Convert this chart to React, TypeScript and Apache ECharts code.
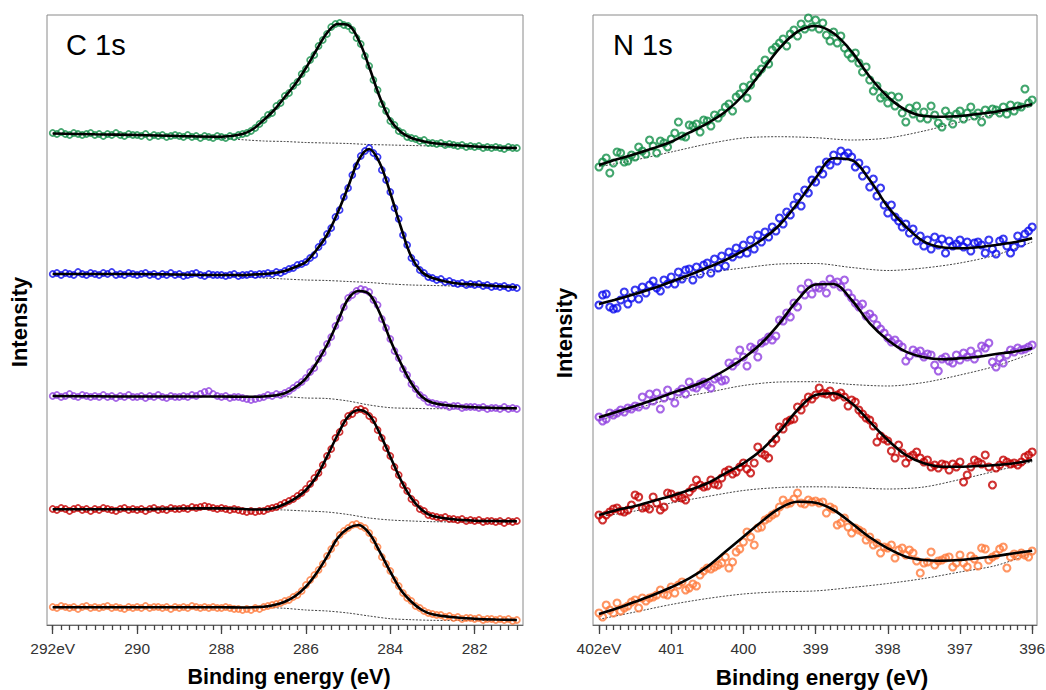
import React, { useEffect, useRef } from 'react';
import * as echarts from 'echarts';

// ---------- axes ----------
const C_TICKS = [292, 290, 288, 286, 284, 282];
const N_TICKS = [402, 401, 400, 399, 398, 397, 396];
const C_RANGE = [280.855, 292.135];
const N_RANGE = [395.933, 402.083];

// ---------- sampling grids (binding energy, eV) ----------
const C_START = 292; const C_STEP = 0.1;   // C 1s measured points
const N_START = 402; const N_STEP = 0.05;  // N 1s measured points
const C_FIT_EV = [292, 291, 290, 289, 288, 287.5, 287.25, 287, 286.75, 286.5, 286.25, 286, 285.75, 285.5, 285.25, 285, 284.75, 284.5, 284.25, 284, 283.75, 283.5, 283.25, 283, 282.5, 282, 281.5, 281];
const C_BASE_EV = [292, 290, 288, 287, 286.5, 286, 285.5, 285, 284.5, 284, 283.5, 283, 282, 281];
const N_FIT_EV = [402, 401.75, 401.5, 401.25, 401, 400.75, 400.5, 400.25, 400, 399.75, 399.5, 399.25, 399, 398.75, 398.5, 398.25, 398, 397.75, 397.5, 397.25, 397, 396.75, 396.5, 396.25, 396];
const N_BASE_EV = [402, 401.5, 401, 400.5, 400, 399.5, 399, 398.5, 398, 397.5, 397, 396.5, 396];

const COLORS = ['#14904a', '#0a0aee', '#9040e0', '#c40000', '#ff7a3c'];

// ---------- C 1s (offset intensity, a.u.) ----------
const cGreenPts = [
  492,491,493,491,490,492,491,490,491,492,
  490,491,489,491,490,492,490,489,491,490,
  490,489,491,488,490,489,490,488,489,490,
  489,488,490,488,489,487,489,488,487,489,
  488,487,489,488,490,491,492,494,497,501,
  505,510,512,519,522,529,532,539,543,551,
  556,565,570,579,585,591,598,601,602,600,
  599,595,587,581,569,559,545,535,521,514,
  504,500,494,492,488,487,486,484,485,482,
  482,481,482,480,481,480,479,480,478,479,
  478,479,477,478,477,478,477,476,478,477,477];
const cBluePts = [
  351,352,350,352,351,350,353,351,350,352,
  351,350,352,351,353,350,351,350,352,351,
  350,351,352,350,351,349,351,350,352,350,
  351,349,350,351,352,350,349,351,350,350,
  350,349,350,351,349,350,350,351,350,351,
  351,352,351,353,352,354,356,357,360,361,
  363,367,370,378,383,391,397,408,415,428,
  437,450,459,469,474,477,472,468,455,445,
  433,417,406,390,380,367,362,355,352,348,
  347,345,346,343,344,342,341,342,340,341,
  340,341,339,340,338,339,338,339,337,338,337];
const cPurplePts = [
  229,230,228,229,231,229,228,230,229,228,
  229,228,230,228,229,227,229,228,230,228,
  228,229,227,229,228,230,228,227,229,228,
  228,229,228,230,229,231,233,234,231,229,
  228,229,227,228,228,227,226,225,226,227,
  228,230,229,231,230,232,234,237,240,243,
  247,253,257,266,272,281,288,299,307,318,
  327,330,334,336,335,333,325,320,306,297,
  286,274,267,256,250,241,236,230,227,223,
  222,221,220,220,218,219,219,217,218,218,
  218,217,218,216,217,217,216,218,216,217,216];
const cRedPts = [
  116,115,117,116,114,116,117,115,116,114,
  116,115,117,116,115,114,116,117,115,116,
  115,116,114,116,117,115,116,115,117,116,
  116,117,116,118,117,118,119,118,117,116,
  117,116,115,116,115,114,113,114,113,114,
  114,116,117,118,120,122,124,126,129,132,
  136,141,147,152,160,169,176,187,193,202,
  209,211,215,216,214,209,205,195,187,177,
  169,158,150,140,134,126,122,116,114,110,
  109,108,107,108,106,106,105,106,104,105,
  104,105,103,104,104,103,104,102,104,103,104];
const cOrangePts = [
  18,17,19,18,17,18,16,18,19,17,
  18,17,18,19,17,18,17,16,18,17,
  18,17,19,17,18,18,17,18,16,18,
  17,18,17,19,18,17,18,17,18,17,
  17,18,17,16,16,15,16,15,17,16,
  18,19,20,21,22,24,25,28,30,34,
  40,45,50,55,61,69,76,82,90,94,
  97,100,101,99,97,92,85,78,68,61,
  54,45,39,32,27,24,19,17,14,12,
  11,10,10,8,9,7,8,6,7,7,
  6,7,5,6,6,5,6,5,6,4,5];

const cGreenFit = [491.5,490.7,490,489,488.3,491,496,505,515,528,541,557,575,592,601,600,585,558,528,505,493,487,484,482,480,478.5,477.5,477];
const cBlueFit = [351,351,351,350.5,350,350,350.5,351,352,354,358,363,375,390,412,438,465,476,462,432,398,368,353,347,342,340.5,339,337.7];
const cPurpleFit = [229,228.7,228.5,228.5,228.5,228.3,228.3,228.5,229.5,231.7,237.7,246.7,261.7,280,303,326,334,331,312,285,261.7,241.7,228.3,222.3,219,217.7,217,216.7];
const cRedFit = [115.7,115.7,115.7,116.5,116.7,116,115.5,115.5,117,121,126.7,135,148.3,168.3,190,208.3,215,210,191.7,168.3,145,126.7,115,109,105.7,104.3,104,103.7];
const cOrangeFit = [17.7,17.7,17.7,17.7,17.7,17.5,17.7,18.3,20,23.3,29,38.3,51.7,68.3,86.7,96.7,100,91.7,73.3,53.3,35,23.3,15,10.7,7.7,6.3,5.5,5];

const cGreenBase = [491.5,489.5,486.5,484,483.5,482.5,482,481.5,480.5,480,479.5,479,478,477];
const cBlueBase = [351,350.5,349.5,347,346,345,344.5,343.5,342.5,341,340,339.5,338.5,337.5];
const cPurpleBase = [229,228.5,228.5,228.5,228.3,227,226.5,224,220,217.3,216.7,216.3,216.3,216.5];
const cRedBase = [115.7,115.7,116,115.5,115,114,113,110.5,107,105,104,103.3,103,103.5];
const cOrangeBase = [17.7,17.7,17.5,17.5,16.7,15,14,12,9,6.3,5.3,4.7,4.5,5];

// ---------- N 1s (offset intensity, a.u.) ----------
const nGreenPts = [
  458,463,467,452,462, 473,472,463,464,470, 468,478,474,471,485, 479,472,484,482,478,
  486,492,503,489,488, 500,499,501,493,505, 504,499,510,507,512, 518,521,514,528,531,
  538,527,540,548,552, 556,565,561,575,578, 582,586,579,591,595, 589,601,596,607,598,
  605,596,602,590,584, 593,582,589,577,571, 567,572,562,553,558, 545,534,539,527,530,
  522,529,519,528,512, 503,517,511,519,507, 513,506,519,510,502, 498,514,509,501,511,
  514,506,512,518,509, 512,503,515,511,516, 515,512,518,511,520, 514,519,518,536,522,
  525];
const nBluePts = [
  320,330,331,318,316, 317,325,333,321,327, 335,326,338,332,340, 344,337,334,345,341,
  348,341,353,346,355, 356,345,358,351,360, 362,352,366,357,369, 359,373,368,377,371,
  380,372,385,376,390, 383,393,388,398,394, 407,401,413,410,420, 428,419,435,432,445,
  443,455,451,463,460, 470,464,474,469,472, 468,458,462,449,455, 438,446,429,437,420,
  412,420,408,404,398, 401,392,396,384,389, 379,385,376,388,380, 386,372,384,379,381,
  385,378,383,374,382, 383,380,372,385,376, 371,384,386,379,372, 378,389,382,391,394,
  398];
const nPurplePts = [
  208,204,206,212,210, 212,215,213,217,216, 219,218,228,220,231, 224,232,216,227,235,
  229,222,233,236,231, 243,238,237,241,243, 240,237,246,248,244, 245,262,259,263,275,
  268,259,278,276,268, 282,284,288,285,289, 305,304,312,308,322, 318,336,330,342,331,
  338,337,340,332,346, 341,343,338,345,332, 327,322,318,321,309, 311,307,300,296,292,
  287,283,285,281,278, 264,269,275,272,274, 268,271,270,260,254, 266,268,264,262,270,
  265,272,268,274,266, 271,279,277,282,263, 258,267,262,270,275, 273,277,275,276,278,
  280];
const nRedPts = [
  110,105,110,113,116, 117,114,113,115,120, 130,128,117,118,116, 128,122,115,118,132,
  131,127,129,127,125, 133,137,145,140,138, 139,145,141,140,147, 153,155,151,153,158,
  162,156,152,162,178, 172,170,167,182,186, 198,196,203,205,206, 218,215,222,228,226,
  230,237,232,231,234, 228,230,232,228,219, 225,223,215,211,207, 205,199,183,189,186,
  184,174,167,180,172, 162,168,170,173,167, 163,165,158,160,157, 161,160,155,161,158,
  163,143,150,158,165, 163,161,170,158,140, 157,160,165,163,161, 162,160,163,168,170,
  173];
const nOrangePts = [
  12,8,20,15,12, 22,14,17,19,23, 25,17,27,24,27, 28,30,35,31,30,
  38,32,40,43,35, 37,41,39,50,54, 57,56,58,60,62, 68,57,63,73,76,
  83,93,88,80,97, 98,105,107,110,112, 118,125,121,122,126, 132,122,121,125,123,
  124,122,123,112,118, 116,100,102,107,98, 92,97,95,93,85, 88,80,82,72,78,
  77,80,67,75,77, 70,75,72,64,52, 62,63,73,60,64, 65,67,68,58,62,
  70,62,58,69,66, 59,77,76,65,68, 70,76,78,57,68, 71,69,72,70,68,
  74];

const nGreenFit = [460,465.7,471,476.7,483.3,492.3,501.7,513.3,530,553.3,576.7,593.3,599,591.7,573.3,548.3,528.3,515,509,508.3,509,511,513.3,516.7,520.7];
const nBlueFit = [321,325.7,331,336.7,343.3,350,357.3,365,374.3,385,400,421.7,446.7,466.7,465,445,418.3,398.3,383.3,377.7,376.7,377.7,380,382.7,386.7];
const nPurpleFit = [207.7,213.3,219,225,231.7,237.7,245,255,266.7,281.7,301.7,325,340.5,341,325,301.7,285,273.3,267.7,265.7,266.7,268.3,271,273.3,276.7];
const nRedFit = [110,115,119,124,129,135,141.7,151.7,161.7,175,193.3,215,230,231.7,221.7,203.3,185,170,161.7,158.3,158.3,159,160,161.7,165];
const nOrangeFit = [11,16.7,23.3,30,37.7,46.7,58.3,73.3,88.3,103.3,116.7,123.3,122.3,115,101.7,87.7,76.7,68.3,65,64.3,65,66.7,69,71.7,74.3];

const nGreenBase = [458.3,465,473,481,487,488.3,487.3,485,487,494,503,511,519];
const nBlueBase = [320,333,342,352,357,361,361.5,357.5,354.5,357,362,370,383];
const nPurpleBase = [204.3,216,226,232.5,239.5,243,243.3,240.5,239,242.5,250,259,271.7];
const nRedBase = [108.3,114,122,128.5,134.5,137.5,138.2,137.5,136,138,145.5,154,163.3];
const nOrangeBase = [5.7,13,20.5,26.5,31,33.2,34.1,37.5,41.5,46.5,53,59.5,71.7];

const C_SPECTRA = [
  { pts: cGreenPts, fit: cGreenFit, base: cGreenBase },
  { pts: cBluePts, fit: cBlueFit, base: cBlueBase },
  { pts: cPurplePts, fit: cPurpleFit, base: cPurpleBase },
  { pts: cRedPts, fit: cRedFit, base: cRedBase },
  { pts: cOrangePts, fit: cOrangeFit, base: cOrangeBase },
];
const N_SPECTRA = [
  { pts: nGreenPts, fit: nGreenFit, base: nGreenBase },
  { pts: nBluePts, fit: nBlueFit, base: nBlueBase },
  { pts: nPurplePts, fit: nPurpleFit, base: nPurpleBase },
  { pts: nRedPts, fit: nRedFit, base: nRedBase },
  { pts: nOrangePts, fit: nOrangeFit, base: nOrangeBase },
];

const FONT = 'Arial, "Liberation Sans", Helvetica, sans-serif';

function minorTicks(from: number, to: number, step: number) {
  const out: number[] = [];
  const n = Math.round((from - to) / step);
  for (let i = 0; i <= n; i++) out.push(+(from - i * step).toFixed(3));
  return out;
}

function buildSeries(spectra: any[], start: number, step: number, fitEv: number[], baseEv: number[], xi: number, yi: number, symSize: number, bw: number) {
  const out: any[] = [];
  spectra.forEach((s, k) => {
    const col = COLORS[k];
    out.push({
      type: 'line', xAxisIndex: xi, yAxisIndex: yi, silent: true, z: 2,
      data: s.base.map((v: number, i: number) => [baseEv[i], v]),
      smooth: 0.3, showSymbol: false,
      lineStyle: { color: '#444', width: 1, type: [2, 1.5] },
    });
    out.push({
      type: 'scatter', xAxisIndex: xi, yAxisIndex: yi, silent: true, z: 3,
      data: s.pts.map((v: number, i: number) => [+(start - i * step).toFixed(3), v]),
      symbol: 'circle', symbolSize: symSize,
      itemStyle: { color: 'rgba(255,255,255,0)', borderColor: col, borderWidth: bw },
    });
    out.push({
      type: 'line', xAxisIndex: xi, yAxisIndex: yi, silent: true, z: 4,
      data: s.fit.map((v: number, i: number) => [fitEv[i], v]),
      smooth: 0.35, showSymbol: false,
      lineStyle: { color: '#000', width: 2.6 },
    });
  });
  return out;
}

function majorAxis(grid: number, range: number[], ticks: number[], first: number) {
  return {
    type: 'value', gridIndex: grid, position: 'bottom', inverse: true,
    min: range[0], max: range[1],
    axisLine: { show: true, onZero: false, lineStyle: { color: '#666', width: 1 } },
    axisTick: { show: true, customValues: ticks, length: 9, lineStyle: { color: '#444', width: 1.3 } },
    axisLabel: {
      show: true, customValues: ticks, margin: 15, fontSize: 15.5, color: '#333', fontFamily: FONT,
      formatter: (v: number) => (v === first ? first + 'eV' : String(v)),
    },
    splitLine: { show: false },
  };
}
function minorAxis(grid: number, range: number[], ticks: number[]) {
  return {
    type: 'value', gridIndex: grid, position: 'bottom', inverse: true,
    min: range[0], max: range[1],
    axisLine: { show: false },
    axisTick: { show: true, customValues: ticks, length: 5, lineStyle: { color: '#444', width: 1.3 } },
    axisLabel: { show: false },
    splitLine: { show: false },
  };
}

export default function App() {
  const ref = useRef<HTMLDivElement>(null);
  useEffect(() => {
    if (!ref.current) return;
    const chart = echarts.init(ref.current, null, { renderer: 'svg' });
    const option: any = {
      animation: false,
      backgroundColor: '#fff',
      grid: [
        { left: 47, top: 15, width: 476, height: 610, show: true, borderColor: '#8a8a8a', borderWidth: 1, containLabel: false, outerBoundsMode: 'none' },
        { left: 593, top: 15, width: 444, height: 610, show: true, borderColor: '#8a8a8a', borderWidth: 1, containLabel: false, outerBoundsMode: 'none' },
      ],
      xAxis: [
        majorAxis(0, C_RANGE, C_TICKS, 292),
        minorAxis(0, C_RANGE, minorTicks(292, 281, 0.2)),
        majorAxis(1, N_RANGE, N_TICKS, 402),
        minorAxis(1, N_RANGE, minorTicks(402, 396, 0.1)),
      ],
      yAxis: [
        { type: 'value', gridIndex: 0, min: 0, max: 610, show: false },
        { type: 'value', gridIndex: 1, min: 0, max: 610, show: false },
      ],
      graphic: [
        { type: 'text', x: 66, y: 45, style: { text: 'C 1s', fontSize: 29, fontFamily: FONT, fill: '#000', textVerticalAlign: 'middle', verticalAlign: 'middle' } },
        { type: 'text', x: 613, y: 45, style: { text: 'N 1s', fontSize: 29, fontFamily: FONT, fill: '#000', textVerticalAlign: 'middle', verticalAlign: 'middle' } },
        { type: 'text', x: 19, y: 322, rotation: Math.PI / 2, style: { text: 'Intensity', fontSize: 22, fontWeight: 'bold', fontFamily: FONT, fill: '#000', align: 'center', verticalAlign: 'middle' } },
        { type: 'text', x: 564, y: 333, rotation: Math.PI / 2, style: { text: 'Intensity', fontSize: 22, fontWeight: 'bold', fontFamily: FONT, fill: '#000', align: 'center', verticalAlign: 'middle' } },
        { type: 'text', x: 289, y: 677, style: { text: 'Binding energy (eV)', fontSize: 21.5, fontWeight: 'bold', fontFamily: FONT, fill: '#000', align: 'center', verticalAlign: 'middle' } },
        { type: 'text', x: 822, y: 677, style: { text: 'Binding energy (eV)', fontSize: 22.5, fontWeight: 'bold', fontFamily: FONT, fill: '#000', align: 'center', verticalAlign: 'middle' } },
      ],
      series: [
        ...buildSeries(C_SPECTRA, C_START, C_STEP, C_FIT_EV, C_BASE_EV, 0, 0, 6, 1.7),
        ...buildSeries(N_SPECTRA, N_START, N_STEP, N_FIT_EV, N_BASE_EV, 2, 1, 7, 2.1),
      ],
    };
    chart.setOption(option);
    return () => chart.dispose();
  }, []);
  return <div ref={ref} style={{ position: 'fixed', left: 0, top: 0, width: 1046, height: 690, background: '#fff' }} />;
}
